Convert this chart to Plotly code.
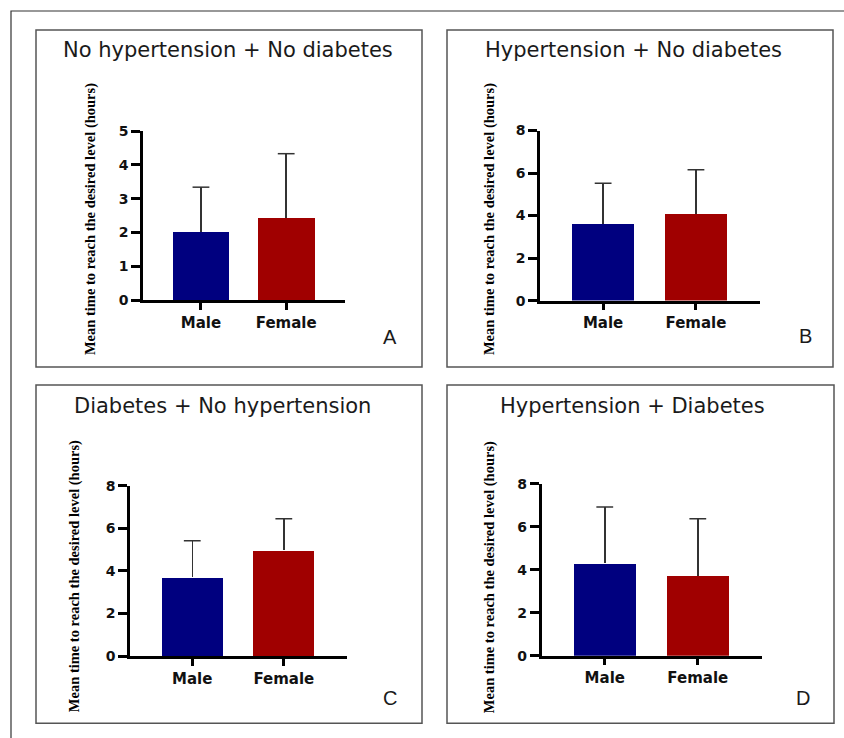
import plotly.graph_objects as go

# ---------------- data ----------------
categories = ["Male", "Female"]
panel_titles = [
    "No hypertension + No diabetes",
    "Hypertension + No diabetes",
    "Diabetes + No hypertension",
    "Hypertension + Diabetes",
]
panel_letters = ["A", "B", "C", "D"]
means_A = [2.00, 2.43]
sds_A = [1.34, 1.90]
means_B = [3.62, 4.08]
sds_B = [1.90, 2.08]
means_C = [3.70, 4.97]
sds_C = [1.72, 1.48]
means_D = [4.29, 3.72]
sds_D = [2.62, 2.65]
y_max = [5, 8, 8, 8]
y_step = [1, 2, 2, 2]
y_label = "Mean time to reach the desired level (hours)"

bar_colors = ["#00007f", "#a00000"]

W, H = 844, 738
V_OFF, V_SC = 7.0, 0.978
def fx(p):
    return p / W
def fy(p):
    return 1 - ((p - V_OFF) / V_SC) / H

# pixel layout per panel: (axis_left, axis_right, y_top, y_bottom)
axes_px = [
    (143, 345, 130, 299),
    (540, 760, 129.5, 299.5),
    (130, 347, 484.5, 655),
    (541.5, 762, 482.5, 654.5),
]
boxes_px = [
    (36, 422, 29, 366),
    (447, 833, 29, 366),
    (36, 422, 384, 722),
    (447, 834, 384, 722),
]
title_pos = [(228, 49), (633, 49), (222, 405), (632, 405)]
letter_pos = [(390, 336), (805, 335), (390, 697), (803, 697)]
ylab_pos = [(90, 218), (489, 218), (74, 575), (489, 576)]

all_means = [means_A, means_B, means_C, means_D]
all_sds = [sds_A, sds_B, sds_C, sds_D]

fig = go.Figure()
layout = dict(
    width=W, height=H, autosize=False,
    margin=dict(l=0, r=0, t=0, b=0),
    paper_bgcolor="white", plot_bgcolor="white",
    showlegend=False,
    bargap=0,
)
annotations = []
shapes = []

for i in range(4):
    n = "" if i == 0 else str(i + 1)
    xa, ya = "x" + n, "y" + n
    means = all_means[i]
    sds = all_sds[i]
    fig.add_trace(go.Bar(
        x=categories, y=means, xaxis=xa, yaxis=ya,
        marker=dict(color=bar_colors, line=dict(width=0)),
        width=0.665,
        error_y=dict(type="data", symmetric=False, array=sds,
                     arrayminus=[0, 0], width=0, thickness=1.5,
                     color="#333333"),
        hoverinfo="skip",
    ))
    tops = [m + s for m, s in zip(means, sds)]
    fig.add_trace(go.Scatter(
        x=categories, y=tops, xaxis=xa, yaxis=ya, mode="markers",
        marker=dict(symbol="line-ew", size=12,
                    line=dict(width=1.5, color="#333333")),
        hoverinfo="skip",
    ))
    l, r, t, b = axes_px[i]
    layout["xaxis" + n] = dict(
        domain=[fx(l), fx(r)], anchor=ya, range=[-0.68, 1.69],
        type="category",
        showline=True, linewidth=2.5, linecolor="black",
        ticks="outside", ticklen=7, tickwidth=2.5, tickcolor="black",
        showgrid=False, zeroline=False,
        tickfont=dict(family="DejaVu Sans", size=15, color="#111", weight="bold"),
    )
    layout["yaxis" + n] = dict(
        domain=[fy(b), fy(t)], anchor=xa, range=[0, y_max[i]],
        tickmode="linear", tick0=0, dtick=y_step[i],
        showline=True, linewidth=2.5, linecolor="black",
        ticks="outside", ticklen=9, tickwidth=2.5, tickcolor="black",
        showgrid=False, zeroline=False,
        tickfont=dict(family="DejaVu Sans", size=14, color="#111", weight="bold"),
    )
    bl, br, bt, bb = boxes_px[i]
    shapes.append(dict(type="rect", xref="paper", yref="paper",
                       x0=fx(bl), x1=fx(br), y0=fy(bb), y1=fy(bt),
                       line=dict(color="#555555", width=1.5)))
    tx, ty = title_pos[i]
    annotations.append(dict(text=panel_titles[i], xref="paper", yref="paper",
                            x=fx(tx), y=fy(ty), xanchor="center", yanchor="middle",
                            showarrow=False,
                            font=dict(family="DejaVu Sans", size=21, color="#1a1a1a")))
    lx, ly = letter_pos[i]
    annotations.append(dict(text=panel_letters[i], xref="paper", yref="paper",
                            x=fx(lx), y=fy(ly), xanchor="center", yanchor="middle",
                            showarrow=False,
                            font=dict(family="Liberation Sans", size=20, color="#1a1a1a")))
    yx, yy = ylab_pos[i]
    annotations.append(dict(text=y_label, xref="paper", yref="paper",
                            x=fx(yx), y=fy(yy), xanchor="center", yanchor="middle",
                            textangle=-90, showarrow=False,
                            font=dict(family="Liberation Serif", size=14.5,
                                      color="black", weight="bold")))

# outer frame
shapes.append(dict(type="rect", xref="paper", yref="paper",
                   x0=fx(11), x1=fx(860), y0=-0.05, y1=fy(10),
                   line=dict(color="#333333", width=1.2)))

layout["annotations"] = annotations
layout["shapes"] = shapes
fig.update_layout(**layout)

post = ("document.body.style.margin='0';"
        "document.body.style.overflow='hidden';"
        "var d=document.getElementById('{plot_id}');"
        "d.style.position='fixed';d.style.left='0px';d.style.top='0px';")
fig.write_html("out.html", post_script=post, config={"displayModeBar": False})
